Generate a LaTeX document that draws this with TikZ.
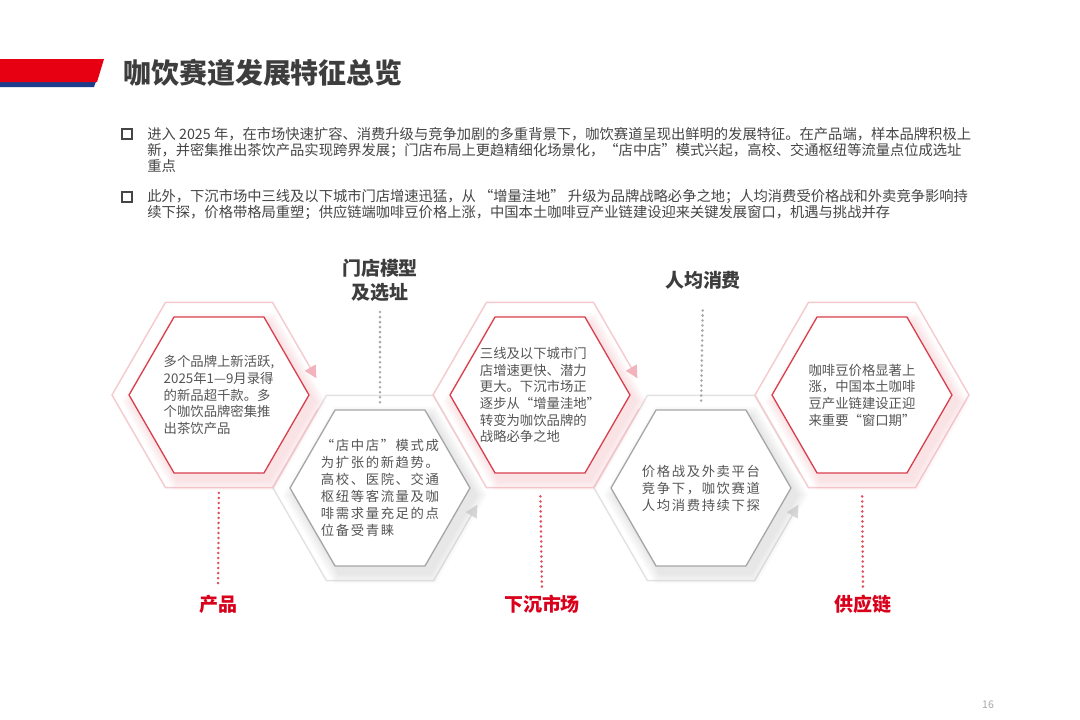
\documentclass[tikz,border=0pt]{standalone}
\usepackage{fontspec}
\setmainfont{Noto Sans CJK SC}
\newfontfamily\spacedcjk[LetterSpace=12]{Noto Sans CJK SC}
\usetikzlibrary{arrows.meta, shapes.geometric, positioning}

\definecolor{titlegray}{HTML}{3D3D3D}
\definecolor{bodygray}{HTML}{454545}
\definecolor{hextextgray}{HTML}{555555}
\definecolor{brandred}{HTML}{E60012}
\definecolor{brandblue}{HTML}{1E3C8C}
\definecolor{labelred}{HTML}{D9001B}
\definecolor{hexred}{HTML}{D8404E}
\definecolor{ringpink}{HTML}{F6C9CE}
\definecolor{arrowpink}{HTML}{F3B3BC}
\definecolor{hexgray}{HTML}{A6A6A6}
\definecolor{ringgray}{HTML}{E2E2E2}
\definecolor{arrowgray}{HTML}{D9D9D9}
\definecolor{dotgray}{HTML}{A8A8A8}
\definecolor{dotred}{HTML}{E0505C}
\definecolor{shadowpink}{HTML}{F2A0AA}
\definecolor{shadowgray}{HTML}{B0B0B0}

% hexagon outline, centre (#1,#2), circumradius #3 (pixel units)
\newcommand{\hexpath}[3]{({#1+(#3)},{#2}) -- ({#1+0.5*(#3)},{#2+0.866*(#3)})
  -- ({#1-0.5*(#3)},{#2+0.866*(#3)}) -- ({#1-(#3)},{#2})
  -- ({#1-0.5*(#3)},{#2-0.866*(#3)}) -- ({#1+0.5*(#3)},{#2-0.866*(#3)}) -- cycle}

\tikzset{
  redhex/.style={regular polygon, regular polygon sides=6, minimum size=3.6cm,
    inner sep=0pt, draw=hexred, line width=0.75pt, fill=white},
  grayhex/.style={redhex, draw=hexgray},
  pinkring/.style={draw=ringpink, line width=0.8pt, line join=miter},
  grayring/.style={draw=ringgray, line width=0.8pt, line join=miter},
  hextext/.style={align=left, inner sep=0pt, text=hextextgray,
    font=\fontsize{7.6pt}{9.5pt}\selectfont},
  spacedtext/.style={hextext, font=\spacedcjk\fontsize{7.6pt}{9.7pt}\selectfont},
  redlabel/.style={text=labelred, inner sep=2pt,
    font=\bfseries\fontsize{10.8pt}{13.6pt}\selectfont},
  graylabel/.style={redlabel, text=titlegray, align=center},
  reddots/.style={draw=dotred, line width=1.6pt, line cap=round,
    dash pattern=on 0pt off 2.85pt},
  graydots/.style={reddots, draw=dotgray},
  bulletbox/.style={draw=bodygray, line width=1.4pt, minimum size=0.19cm, inner sep=0pt},
  notetext/.style={align=left, inner sep=0pt, text=bodygray, anchor=west,
    font=\fontsize{8.13pt}{9.07pt}\selectfont}
}

\begin{document}
\begin{tikzpicture}[x=0.02cm, y=-0.02cm]
  \fill[white] (0,0) rectangle (1080,720);
  \useasboundingbox (0,0) rectangle (1080,720);

  % header band and title
  \fill[brandblue] (0,73) -- (99,73) -- (94,87) -- (0,87) -- cycle;
  \fill[brandred] (0,59) -- (104,59) -- (97,82) -- (0,82) -- cycle;
  \node[anchor=west, inner sep=0pt, text=titlegray,
    font=\bfseries\fontsize{15.9pt}{18pt}\selectfont] (title) at (123,73) {咖饮赛道发展特征总览};

  % summary bullets
  \node[bulletbox] (bulA) at (127,134) {};
  \node[notetext] (noteA) at (147,150) {进入 2025 年，在市场快速扩容、消费升级与竞争加剧的多重背景下，咖饮赛道呈现出鲜明的发展特征。在产品端，样本品牌积极上\\
    新，并密集推出茶饮产品实现跨界发展；门店布局上更趋精细化场景化，“店中店”模式兴起，高校、交通枢纽等流量点位成选址\\
    重点};
  \node[bulletbox] (bulB) at (127,197) {};
  \node[notetext] (noteB) at (147,205) {此外，下沉市场中三线及以下城市门店增速迅猛，从 “增量洼地” 升级为品牌战略必争之地；人均消费受价格战和外卖竞争影响持\\
    续下探，价格带格局重塑；供应链端咖啡豆价格上涨，中国本土咖啡豆产业链建设迎来关键发展窗口，机遇与挑战并存};

  % outer rings, lower row first
  \foreach \cx in {380, 701} {
    \draw[grayring, -{Triangle[length=7pt, width=7pt, color=arrowgray]}]
      ({\cx+99},474) -- ({\cx+53.5},395.3) -- ({\cx-53.5},395.3) -- ({\cx-107},488)
      -- ({\cx-53.5},580.7) -- ({\cx+53.5},580.7) -- ({\cx+97.4},504.7);
  }
  \foreach \cx in {219, 540} {
    \draw[pinkring, -{Triangle[length=7pt, width=7pt, color=arrowpink]}]
      ({\cx+99},409) -- ({\cx+53.5},487.7) -- ({\cx-53.5},487.7) -- ({\cx-107},395)
      -- ({\cx-53.5},302.3) -- ({\cx+53.5},302.3) -- ({\cx+97.4},378.3);
  }
  \draw[pinkring] \hexpath{862}{395}{107};

  % soft shadows
  \foreach \cx/\cy/\tint in {219/395/shadowpink, 380/488/shadowgray, 540/395/shadowpink,
      701/488/shadowgray, 862/395/shadowpink} {
    \foreach \k in {1,...,6}
      \fill[\tint, opacity=0.05] \hexpath{\cx+5}{\cy+7}{90+2*\k};
  }

  % hexagons
  \node[redhex] (hexA) at (219,395) {};
  \node[grayhex] (hexB) at (380,488) {};
  \node[redhex] (hexC) at (540,395) {};
  \node[grayhex] (hexD) at (701,488) {};
  \node[redhex] (hexE) at (862,395) {};

  \node[hextext] (txtA) at (hexA) {多个品牌上新活跃,\\2025年1—9月录得\\的新品超千款。多\\个咖饮品牌密集推\\出茶饮产品};
  \node[spacedtext] (txtB) at (hexB) {“店中店”模式成\\为扩张的新趋势。\\高校、医院、交通\\枢纽等客流量及咖\\啡需求量充足的点\\位备受青睐};
  \node[hextext] (txtC) at (hexC) {三线及以下城市门\\店增速更快、潜力\\更大。下沉市场正\\逐步从“增量洼地”\\转变为咖饮品牌的\\战略必争之地};
  \node[spacedtext] (txtD) at (hexD) {价格战及外卖平台\\竞争下，咖饮赛道\\人均消费持续下探};
  \node[hextext] (txtE) at (hexE) {咖啡豆价格显著上\\涨，中国本土咖啡\\豆产业链建设正迎\\来重要“窗口期”};

  % labels
  \node[graylabel] (lblStore) at (380,280) {门店模型\\及选址};
  \node[graylabel] (lblSpend) at (703,280) {人均消费};
  \node[redlabel] (lblProduct) at (218,604) {产品};
  \node[redlabel] (lblSinking) at (542,604) {下沉市场};
  \node[redlabel] (lblSupply) at (863,604) {供应链};

  \draw[graydots, shorten <=4pt, shorten >=3pt] (lblStore.south) -- (hexB.north);
  \draw[graydots, shorten <=10pt, shorten >=3pt] (lblSpend.south) -- (hexD.north);
  \draw[reddots, shorten <=11pt, shorten >=2pt] (hexA.south) -- (lblProduct.north);
  \draw[reddots, shorten <=13pt, shorten >=2pt] (hexC.south) -- (lblSinking.north);
  \draw[reddots, shorten <=13pt, shorten >=2pt] (hexE.south) -- (lblSupply.north);

  \node[text=dotgray, inner sep=0pt, font=\fontsize{6pt}{7pt}\selectfont] (pageNo) at (988,705) {16};
\end{tikzpicture}
\end{document}
